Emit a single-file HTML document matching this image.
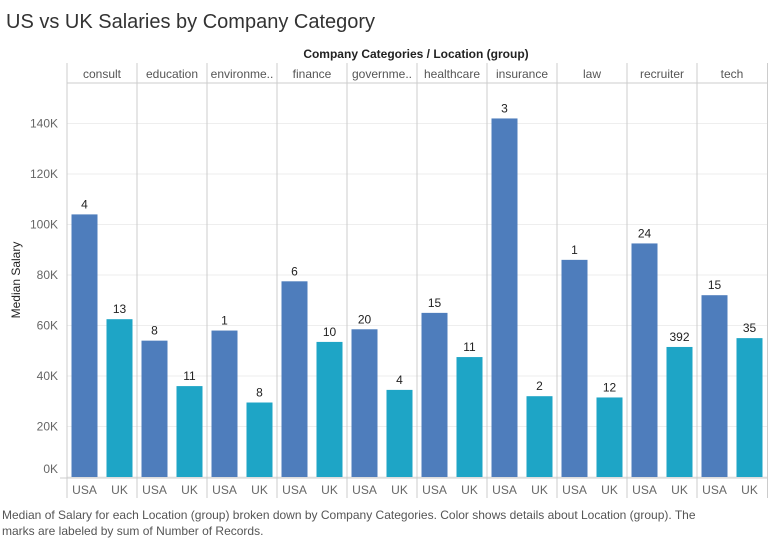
<!DOCTYPE html>
<html><head><meta charset="utf-8"><style>
body{margin:0;width:768px;height:541px;background:#fff;font-family:"Liberation Sans",sans-serif;overflow:hidden}
svg text{font-family:"Liberation Sans",sans-serif}
</style></head><body>
<svg id="c" width="768" height="541">
<text x="6" y="28" font-size="20" fill="#333">US vs UK Salaries by Company Category</text>
<text x="416" y="58" font-size="12" fill="#222" text-anchor="middle" font-weight="bold">Company Categories  /  Location (group)</text>
<text x="20" y="280" font-size="12" fill="#222" text-anchor="middle" transform="rotate(-90 20 280)">Median Salary</text>
<text x="2" y="519" font-size="12" fill="#555">Median of Salary for each Location (group) broken down by Company Categories.  Color shows details about Location (group).  The</text>
<text x="2" y="535" font-size="12" fill="#555">marks are labeled by sum of Number of Records.</text>
</svg>
<script>
const categories=["consult","education","environme..","finance","governme..","healthcare","insurance","law","recruiter","tech"];
const usaValues=[104,54,58,77.5,58.5,65,142,86,92.5,72];
const ukValues=[62.5,36,29.5,53.5,34.5,47.5,32,31.5,51.5,55];
const usaCounts=[4,8,1,6,20,15,3,1,24,15];
const ukCounts=[13,11,8,10,4,11,2,12,392,35];
const yTicks=[0,20,40,60,80,100,120,140];
const NS="http://www.w3.org/2000/svg",svg=document.getElementById('c');
const x0=67,pw=70,y0=477,pxPer=50.5/20;
const y=v=>y0-v*pxPer;
function mk(t,a,txt){const e=document.createElementNS(NS,t);for(const k in a)e.setAttribute(k,a[k]);if(txt!==undefined)e.textContent=txt;svg.appendChild(e);return e;}
yTicks.forEach(t=>{
 const g=mk('line',{x1:x0,x2:768,y1:y(t),y2:y(t),stroke:'#eee'});
 
 
 const ly=t===0?y0-4:y(t)+4;
 const l=mk('text',{x:58,y:ly,'font-size':12,fill:'#666','text-anchor':'end'},t+'K');
 
 
});
mk('line',{x1:x0,x2:768,y1:83,y2:83,stroke:'#ccc'});
mk('line',{x1:60,x2:768,y1:y0+1,y2:y0+1,stroke:'#ccc'});
categories.forEach((c,i)=>{
 const px=x0+i*pw;
 mk('line',{x1:px,x2:px,y1:63,y2:498,stroke:'#ccc'});
 const h=mk('text',{x:px+35,y:78,'font-size':12,fill:'#555','text-anchor':'middle'},c);
 
 
 [[usaValues[i],usaCounts[i],'#4e7dbc','USA'],[ukValues[i],ukCounts[i],'#1ea5c6','UK']].forEach((d,j)=>{
  const bx=px+4.5+j*35;
  const r=mk('rect',{x:bx,y:y(d[0]),width:26,height:y0-y(d[0]),fill:d[2]});
  
  
  const lb=mk('text',{x:bx+13,y:y(d[0])-6,'font-size':12,fill:'#222','text-anchor':'middle'},d[1]);
  
  
  const xl=mk('text',{x:bx+13,y:494,'font-size':12,fill:'#666','text-anchor':'middle'},d[3]);
  
  
 });
});
mk('line',{x1:767.5,x2:767.5,y1:63,y2:498,stroke:'#ccc'});
</script>
</body></html>
